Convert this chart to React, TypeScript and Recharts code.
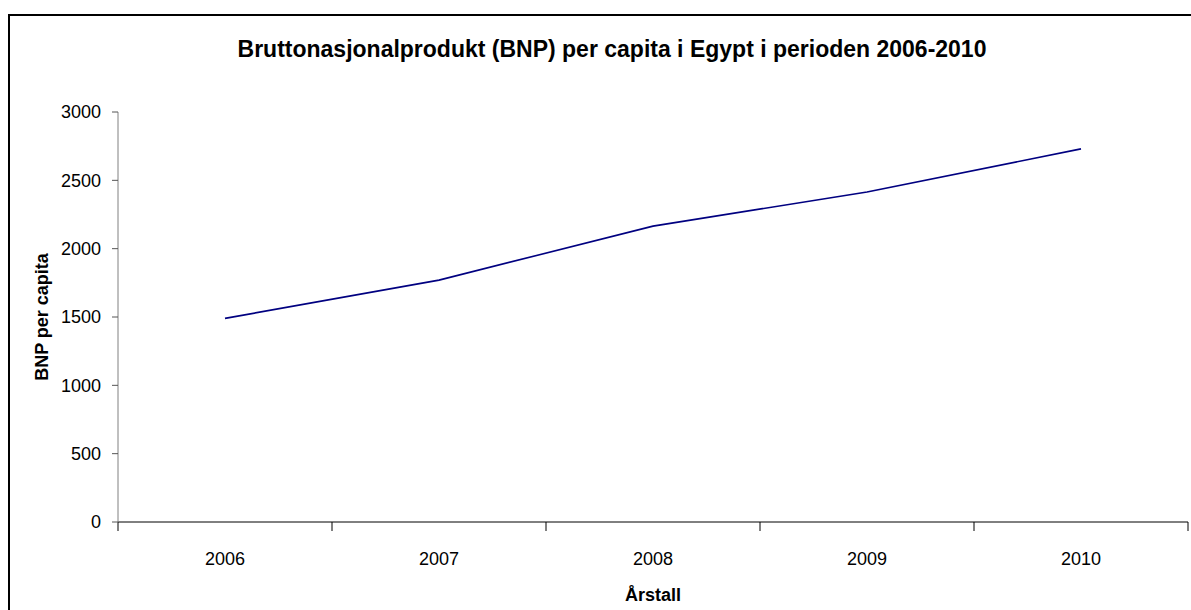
import React from 'react';
import { LineChart, Line, XAxis, YAxis } from 'recharts';

// BNP per capita, Egypt
const years = ['2006', '2007', '2008', '2009', '2010'];
const gdpPerCapita = [1490, 1770, 2165, 2415, 2730];
const yTicks = [0, 500, 1000, 1500, 2000, 2500, 3000];
const boundaryTicks = [0, 1, 2, 3, 4, 5];

const data = years.map((year, i) => ({ year, bnp: gdpPerCapita[i] }));

const FONT = '"Liberation Sans", Arial, sans-serif';

export default function App() {
  return (
    <div style={{ position: 'absolute', left: 0, top: 0, width: 1191, height: 610, background: '#fff', fontFamily: FONT }}>
      {/* outer frame (only top/left visible in the crop) */}
      <div
        style={{
          position: 'absolute',
          left: 8,
          top: 14,
          right: -4,
          bottom: -4,
          borderTop: '2px solid #000',
          borderLeft: '2px solid #000',
        }}
      />
      <div
        style={{
          position: 'absolute',
          left: 0,
          width: 1224,
          top: 36,
          textAlign: 'center',
          fontSize: 23,
          fontWeight: 'bold',
          color: '#000',
        }}
      >
        Bruttonasjonalprodukt (BNP) per capita i Egypt i perioden 2006-2010
      </div>
      <div style={{ position: 'absolute', left: 0, top: 0 }}>
        <LineChart width={1191} height={610} data={data} margin={{ top: 112, right: 3, bottom: 47, left: 60 }}>
          {/* tick marks between categories, Excel style */}
          <XAxis
            xAxisId="aEdges"
            dataKey="edge"
            type="number"
            domain={[0, years.length]}
            ticks={boundaryTicks}
            interval={0}
            allowDataOverflow
            tickFormatter={() => ''}
            tickSize={9}
            tickMargin={0}
            height={1}
            stroke="#000"
            tickLine={{ stroke: '#000' }}
          />
          <XAxis
            xAxisId="cat"
            dataKey="year"
            scale="band"
            axisLine={false}
            tickLine={false}
            tickMargin={23}
            height={40}
            tick={{ fontSize: 18, fill: '#000', fontFamily: FONT }}
            label={{ value: 'Årstall', position: 'insideBottom', offset: -38, fontSize: 18, fontWeight: 'bold', fill: '#000', fontFamily: FONT }}
          />
          <YAxis
            domain={[0, 3000]}
            ticks={yTicks}
            width={58}
            tickSize={6}
            tickMargin={11}
            stroke="#808080"
            tickLine={{ stroke: '#555' }}
            tick={{ fontSize: 18, fill: '#000', fontFamily: FONT }}
            label={{ value: 'BNP per capita', angle: -90, position: 'insideLeft', offset: -18, fontSize: 18, fontWeight: 'bold', fill: '#000', fontFamily: FONT, style: { textAnchor: 'middle' } }}
          />
          <Line
            xAxisId="cat"
            type="linear"
            dataKey="bnp"
            stroke="#000080"
            strokeWidth={1.6}
            dot={false}
            activeDot={false}
            isAnimationActive={false}
          />
        </LineChart>
      </div>
    </div>
  );
}
